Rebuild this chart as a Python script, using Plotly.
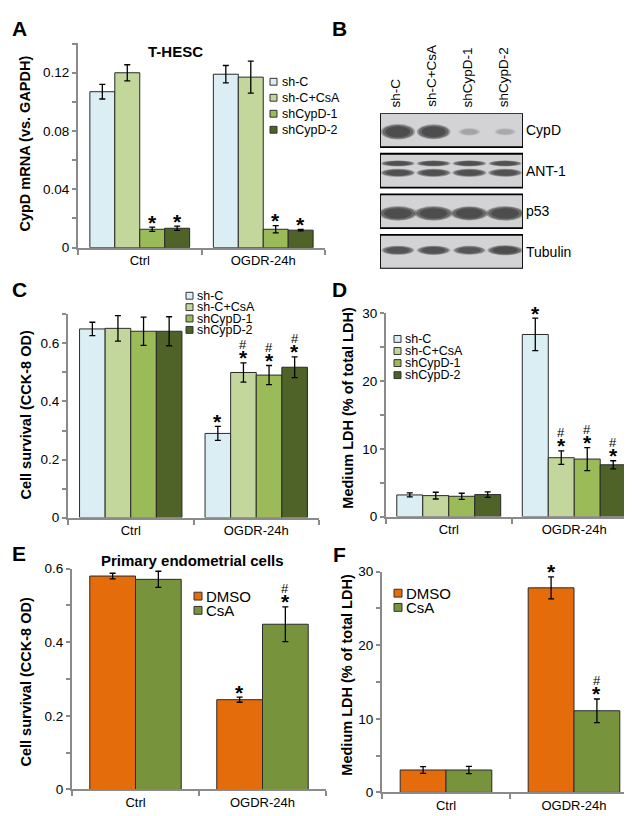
import plotly.graph_objects as go

W, H = 632, 816
FONT = "Liberation Sans, Arial, sans-serif"
AX_COLOR = "#8a8a8a"

# ---------------- data ----------------
groups = ["Ctrl", "OGDR-24h"]
shrna_series = ["sh-C", "sh-C+CsA", "shCypD-1", "shCypD-2"]
shrna_colors = ["#DAEEF3", "#C3D69B", "#9BBB59", "#4F6228"]
drug_series = ["DMSO", "CsA"]
drug_colors = ["#E46C0A", "#77933C"]

# Panel A: CypD mRNA (vs. GAPDH), one list per series -> [Ctrl, OGDR-24h]
a_vals = [[0.107, 0.119], [0.120, 0.117], [0.0126, 0.0126], [0.0133, 0.0120]]
a_errs = [[0.005, 0.006], [0.0055, 0.011], [0.0015, 0.0025], [0.0015, 0.0005]]
a_sig = [["", ""], ["", ""], ["*", "*"], ["*", "*"]]

# Panel C: Cell survival (CCK-8 OD)
c_vals = [[0.650, 0.290], [0.652, 0.500], [0.642, 0.491], [0.642, 0.518]]
c_errs = [[0.023, 0.024], [0.044, 0.033], [0.049, 0.033], [0.050, 0.036]]
c_sig = [["", "*"], ["", "#*"], ["", "#*"], ["", "#*"]]

# Panel D: Medium LDH (% of total LDH)
d_vals = [[3.2, 26.9], [3.1, 8.7], [3.0, 8.5], [3.25, 7.65]]
d_errs = [[0.3, 2.4], [0.5, 1.0], [0.45, 1.7], [0.4, 0.6]]
d_sig = [["", "*"], ["", "#*"], ["", "#*"], ["", "#*"]]

# Panel E: primary endometrial cells, cell survival
e_vals = [[0.580, 0.244], [0.571, 0.449]]
e_errs = [[0.0075, 0.007], [0.022, 0.047]]
e_sig = [["", "*"], ["", "#*"]]

# Panel F: primary endometrial cells, medium LDH
f_vals = [[3.05, 27.8], [3.05, 11.1]]
f_errs = [[0.45, 1.5], [0.5, 1.6]]
f_sig = [["", "*"], ["", "#*"]]

# Panel B: western blot (relative band intensity, lanes = shrna_series)
blot_proteins = ["CypD", "ANT-1", "p53", "Tubulin"]
blot_intensity = [[1.0, 0.95, 0.22, 0.18],
                  [0.9, 0.9, 0.9, 0.88],
                  [1.0, 1.0, 0.95, 1.0],
                  [0.85, 0.88, 0.82, 1.0]]


def px(xp):
    return xp / W


def py(yp):
    return 1 - yp / H


fig = go.Figure()
shapes = []
annotations = []


def axis_names(n):
    s = "" if n == 1 else str(n)
    return "xaxis" + s, "yaxis" + s, "x" + s, "y" + s


def add_panel(n, xdom, ydom, yrange, dtick, minor, series, colors, vals, errs,
              sig, bar_w, ytitle, ytitle_pos):
    xa, ya, xr, yr = axis_names(n)
    k = len(series)
    for i, name in enumerate(series):
        off = -k * bar_w / 2 + i * bar_w
        fig.add_trace(go.Bar(
            x=groups, y=vals[i], name=name, width=bar_w, offset=off,
            marker=dict(color=colors[i], line=dict(color="#2a2a2a", width=1)),
            error_y=dict(type="data", array=errs[i], color="black",
                         thickness=1.3, width=3),
            xaxis=xr, yaxis=yr, showlegend=False, hoverinfo="skip"))
        for g in range(len(groups)):
            s = sig[i][g]
            if not s:
                continue
            xc = g + off + bar_w / 2
            ytop = vals[i][g] + errs[i][g]
            annotations.append(dict(
                x=xc, y=ytop, xref=xr, yref=yr, text="<b>*</b>",
                showarrow=False, xanchor="center", yanchor="middle", yshift=5,
                font=dict(size=21, family=FONT, color="black")))
            if "#" in s:
                annotations.append(dict(
                    x=xc, y=ytop, xref=xr, yref=yr, text="#",
                    showarrow=False, xanchor="center", yanchor="middle",
                    yshift=18, font=dict(size=13, family=FONT, color="black")))
    fig.layout[xa] = dict(
        domain=[px(xdom[0]), px(xdom[1])], type="category",
        range=[-0.5, 1.5], tickson="boundaries", ticks="outside", ticklen=5,
        tickwidth=1.5, tickcolor=AX_COLOR, showline=True, linecolor=AX_COLOR,
        linewidth=2, showgrid=False, zeroline=False, anchor=yr,
        tickfont=dict(size=13, family=FONT, color="black"), fixedrange=True)
    fig.layout[ya] = dict(
        domain=[py(ydom[1]), py(ydom[0])], range=yrange, dtick=dtick, tick0=0,
        ticks="outside", ticklen=4, tickwidth=1.5, tickcolor=AX_COLOR,
        minor=dict(dtick=minor, tick0=0, ticks="outside", ticklen=4,
                   tickwidth=1.5, tickcolor=AX_COLOR, showgrid=False),
        showline=True, linecolor=AX_COLOR, linewidth=2, showgrid=False,
        zeroline=False, anchor=xr,
        tickfont=dict(size=13.5, family=FONT, color="black"), fixedrange=True)
    annotations.append(dict(
        x=px(ytitle_pos[0]), y=py(ytitle_pos[1]), xref="paper", yref="paper",
        text="<b>%s</b>" % ytitle, textangle=-90, showarrow=False,
        xanchor="center", yanchor="middle",
        font=dict(size=14.5, family=FONT, color="black")))


def add_legend(series, colors, x0, y0, step, size, box, gap):
    for i, name in enumerate(series):
        yc = y0 + i * step
        shapes.append(dict(
            type="rect", xref="paper", yref="paper",
            x0=px(x0), x1=px(x0 + box), y0=py(yc + box / 2), y1=py(yc - box / 2),
            fillcolor=colors[i], line=dict(color="#333333", width=1)))
        annotations.append(dict(
            x=px(x0 + box + gap), y=py(yc), xref="paper", yref="paper",
            text=name, showarrow=False, xanchor="left", yanchor="middle",
            font=dict(size=size, family=FONT, color="black")))


def panel_label(t, x, y):
    annotations.append(dict(
        x=px(x), y=py(y), xref="paper", yref="paper", text="<b>%s</b>" % t,
        showarrow=False, xanchor="center", yanchor="middle",
        font=dict(size=21, family=FONT, color="black")))


def title(text, x, y, size):
    annotations.append(dict(x=px(x), y=py(y), xref="paper", yref="paper",
                            text="<b>%s</b>" % text, showarrow=False,
                            xanchor="center", yanchor="middle",
                            font=dict(size=size, family=FONT, color="black")))


# ---------- Panel A ----------
add_panel(1, (70, 317), (29, 237), [0, 0.1401], 0.04, 0.02, shrna_series,
          shrna_colors, a_vals, a_errs, a_sig, 0.202,
          "CypD mRNA (vs. GAPDH)", (17, 131))
add_legend(shrna_series, shrna_colors, 262, 68, 16.3, 12.5, 7, 3)
title("T-HESC", 167, 37, 15)
panel_label("A", 11, 14)

# ---------- Panel C ----------
add_panel(3, (60, 311), (305, 512), [0, 0.7001], 0.2, 0.1, shrna_series,
          shrna_colors, c_vals, c_errs, c_sig, 0.204,
          "Cell survival (CCK-8 OD)", (17, 408))
add_legend(shrna_series, shrna_colors, 178, 286, 11.6, 12.5, 7, 2)
panel_label("C", 11, 280)

# ---------- Panel D ----------
add_panel(4, (378, 629), (304, 511), [0, 30.01], 10, 5, shrna_series,
          shrna_colors, d_vals, d_errs, d_sig, 0.207,
          "Medium LDH (% of total LDH)", (340, 400))
add_legend(shrna_series, shrna_colors, 386, 330, 12.3, 12.5, 7, 2)
panel_label("D", 331, 280)

# ---------- Panel E ----------
add_panel(5, (64, 318), (564, 789), [0, 0.6001], 0.2, 0.1, drug_series,
          drug_colors, e_vals, e_errs, e_sig, 0.36,
          "Cell survival (CCK-8 OD)", (17, 680))
add_legend(drug_series, drug_colors, 186, 592, 14.5, 15, 8, 2)
title("Primary endometrial cells", 184, 556, 15)
panel_label("E", 11, 549)

# ---------- Panel F ----------
add_panel(6, (374, 630), (567, 792), [0, 30.01], 10, 5, drug_series,
          drug_colors, f_vals, f_errs, f_sig, 0.358,
          "Medium LDH (% of total LDH)", (339, 672))
add_legend(drug_series, drug_colors, 386, 589, 14.5, 15, 8, 2)
panel_label("F", 331, 550)

# ---------- Panel B: western blot ----------
panel_label("B", 331, 14)
ROW_SPAN = 3.835
fig.layout["xaxis7"] = dict(domain=[px(372), px(515)], range=[0, 4],
                            visible=False, anchor="y7", fixedrange=True)
fig.layout["yaxis7"] = dict(domain=[py(258.5), py(100)], range=[ROW_SPAN, 0],
                            visible=False, anchor="x7", fixedrange=True)
# band layout per row: (centre within row, height, width fraction)
band_geom = [
    [(0.46, 0.34, 0.86)],
    [(0.24, 0.14, 0.88), (0.47, 0.19, 0.9)],
    [(0.47, 0.32, 0.96)],
    [(0.38, 0.22, 0.88)],
]
BOX_H = 0.835
for r, prot in enumerate(blot_proteins):
    shapes.append(dict(type="rect", xref="x7", yref="y7", x0=0, x1=4,
                       y0=r, y1=r + BOX_H, fillcolor="#d3d3d5",
                       line=dict(color="black", width=1.8), layer="below"))
    for lane in range(len(shrna_series)):
        inten = blot_intensity[r][lane]
        for (yc, h, wf) in band_geom[r]:
            hh = h * (0.35 + 0.65 * inten)
            ww = wf * (0.55 + 0.45 * inten)
            xc = lane + 0.5
            for scale, op in ((1.12, 0.35), (1.0, 0.55), (0.8, 0.6)):
                shapes.append(dict(
                    type="circle", xref="x7", yref="y7",
                    x0=xc - ww * scale / 2, x1=xc + ww * scale / 2,
                    y0=r + yc - hh * scale / 2, y1=r + yc + hh * scale / 2,
                    fillcolor="#3c3c3c", opacity=op * min(1, inten * 1.05),
                    line=dict(width=0)))
    annotations.append(dict(x=4, y=r + BOX_H / 2, xref="x7", yref="y7",
                            text=prot, showarrow=False, xanchor="left",
                            yanchor="middle", xshift=1,
                            font=dict(size=14, family=FONT, color="black")))
for lane, name in enumerate(shrna_series):
    annotations.append(dict(x=lane + 0.5, y=0, xref="x7", yref="y7",
                            text=name, textangle=-90, showarrow=False,
                            xanchor="center", yanchor="bottom", yshift=4,
                            xshift=-2,
                            font=dict(size=13.5, family=FONT, color="black")))

fig.update_layout(
    width=W, height=H, margin=dict(l=0, r=0, t=0, b=0),
    paper_bgcolor="white", plot_bgcolor="rgba(0,0,0,0)",
    showlegend=False, shapes=shapes, annotations=annotations,
    font=dict(family=FONT, color="black"),
)

fig.write_html("out.html")
